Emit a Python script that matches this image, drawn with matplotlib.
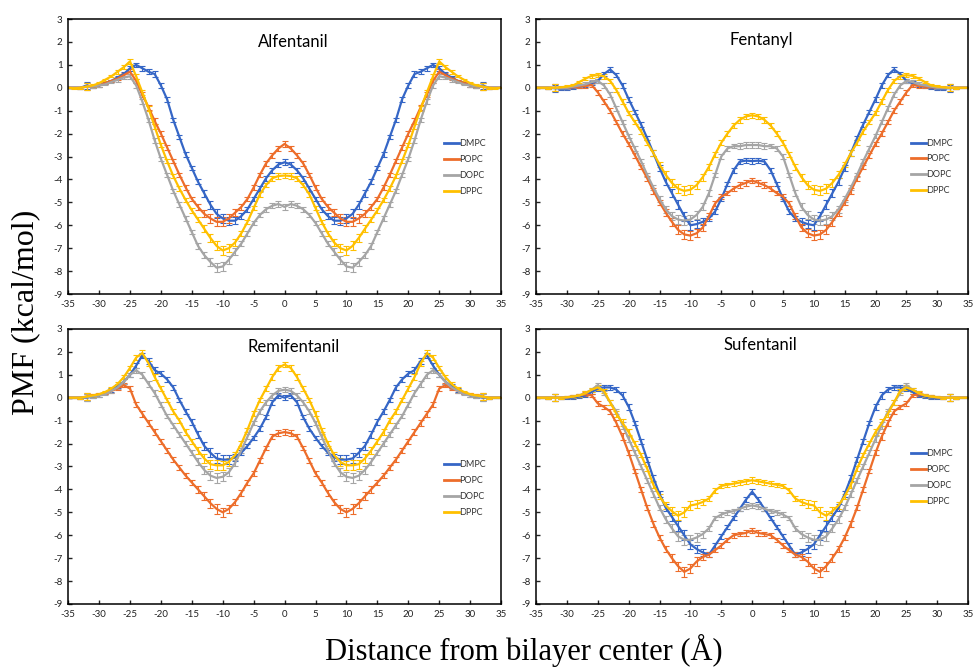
import numpy as np
import matplotlib
matplotlib.use('Agg')
import matplotlib.pyplot as plt
from matplotlib.lines import Line2D

plt.rcParams['axes.unicode_minus'] = False

# distance grid (A); profiles are symmetric, values read for -35..0
x_half = np.arange(-35, 1)
x = np.arange(-35, 36)

lipids = ['DMPC', 'POPC', 'DOPC', 'DPPC']
colors = {'DMPC': '#3566c6', 'POPC': '#ed6d2a', 'DOPC': '#a5a5a5', 'DPPC': '#ffc000'}

drugs = ['Alfentanil', 'Fentanyl', 'Remifentanil', 'Sufentanil']

# PMF (kcal/mol), x = -35 ... 0
alf_dmpc = [0, 0, 0, 0.1, 0.05, 0.1, 0.2, 0.3, 0.45, 0.6,
            0.85, 1.0, 0.85, 0.7, 0.6, 0.1, -0.5, -1.4, -2.15, -2.9,
            -3.5, -4.1, -4.6, -5.1, -5.5, -5.7, -5.8, -5.8, -5.6, -5.3,
            -4.85, -4.4, -3.95, -3.6, -3.35, -3.25]
alf_popc = [0, 0, 0, 0.05, 0.05, 0.1, 0.2, 0.3, 0.4, 0.55,
            0.7, 0.3, -0.3, -0.85, -1.45, -2.0, -2.6, -3.2, -3.8, -4.35,
            -4.85, -5.2, -5.5, -5.7, -5.85, -5.85, -5.7, -5.45, -5.2, -4.85,
            -4.35, -3.8, -3.3, -2.95, -2.65, -2.45]
alf_dopc = [0, 0, 0, 0.05, 0.05, 0.1, 0.15, 0.25, 0.35, 0.45,
            0.5, 0.1, -0.6, -1.4, -2.3, -3.1, -3.8, -4.5, -5.1, -5.7,
            -6.3, -6.9, -7.3, -7.6, -7.85, -7.8, -7.5, -7.15, -6.8, -6.35,
            -5.9, -5.55, -5.3, -5.15, -5.07, -5.2]
alf_dppc = [0, -0.02, 0, 0.05, 0.1, 0.2, 0.35, 0.5, 0.7, 0.9,
            1.15, 0.5, -0.2, -0.9, -1.7, -2.5, -3.2, -3.85, -4.4, -4.9,
            -5.35, -5.75, -6.15, -6.55, -6.9, -7.1, -7.0, -6.75, -6.35, -5.85,
            -5.25, -4.65, -4.25, -3.95, -3.85, -3.83]

fen_dmpc = [0, 0, 0, -0.02, -0.03, -0.03, 0, 0.05, 0.1, 0.2,
            0.3, 0.6, 0.8, 0.55, 0.1, -0.5, -1.05, -1.6, -2.2, -2.85,
            -3.5, -4.1, -4.6, -5.1, -5.6, -6.0, -5.95, -5.85, -5.7, -5.4,
            -4.85, -4.2, -3.6, -3.22, -3.18, -3.2]
fen_popc = [0, 0, 0, 0, 0, 0, 0.02, 0.05, 0.08, 0.12,
            -0.2, -0.6, -1.0, -1.5, -2.0, -2.45, -2.95, -3.45, -3.95, -4.5,
            -5.0, -5.45, -5.85, -6.2, -6.4, -6.45, -6.35, -6.1, -5.6, -5.05,
            -4.75, -4.6, -4.4, -4.25, -4.15, -4.05]
fen_dopc = [0, 0, 0, 0, 0, 0, 0.05, 0.1, 0.15, 0.25,
            0.3, 0.1, -0.3, -0.9, -1.5, -2.1, -2.65, -3.2, -3.8, -4.35,
            -4.85, -5.3, -5.6, -5.75, -5.8, -5.75, -5.55, -5.2, -4.6, -3.8,
            -3.0, -2.65, -2.55, -2.55, -2.5, -2.5]
fen_dppc = [0, 0, 0, 0, 0.02, 0.05, 0.1, 0.25, 0.4, 0.52,
            0.55, 0.5, 0.3, -0.1, -0.6, -1.1, -1.5, -1.9, -2.4, -2.85,
            -3.35, -3.8, -4.15, -4.4, -4.5, -4.45, -4.25, -3.9, -3.45, -2.9,
            -2.4, -2.0, -1.65, -1.4, -1.25, -1.2]

rem_dmpc = [0, 0, 0, 0, 0.05, 0.1, 0.2, 0.35, 0.5, 0.7,
            1.0, 1.4, 1.85, 1.6, 1.2, 1.05, 0.8, 0.45, -0.1, -0.6,
            -1.05, -1.6, -2.1, -2.4, -2.65, -2.7, -2.7, -2.6, -2.4, -2.1,
            -1.75, -1.35, -0.85, -0.2, 0.1, 0.0]
rem_popc = [0, 0, 0, 0.05, 0.1, 0.15, 0.2, 0.3, 0.4, 0.55,
            0.4, -0.3, -0.7, -1.1, -1.5, -1.9, -2.3, -2.7, -3.05, -3.4,
            -3.7, -4.0, -4.3, -4.6, -4.85, -5.0, -4.85, -4.55, -4.15, -3.7,
            -3.3, -2.75, -2.2, -1.7, -1.55, -1.5]
rem_dopc = [0, 0, 0, 0.02, 0.05, 0.1, 0.15, 0.3, 0.45, 0.7,
            1.0, 1.2, 1.0, 0.6, 0.2, -0.3, -0.8, -1.2, -1.6, -2.0,
            -2.4, -2.8, -3.15, -3.4, -3.5, -3.45, -3.25, -2.85, -2.3, -1.7,
            -1.1, -0.6, -0.2, 0.1, 0.3, 0.35]
rem_dppc = [0, 0, 0, 0.05, 0.1, 0.15, 0.25, 0.4, 0.6, 0.9,
            1.3, 1.75, 1.95, 1.5, 0.9, 0.4, -0.1, -0.6, -1.0, -1.5,
            -1.9, -2.3, -2.65, -2.9, -2.95, -2.95, -2.8, -2.5, -2.0, -1.4,
            -0.7, -0.1, 0.4, 0.9, 1.3, 1.45]

suf_dmpc = [0, 0, 0, 0, 0, 0, 0, 0.05, 0.1, 0.25,
            0.4, 0.45, 0.45, 0.35, 0.1, -0.4, -1.1, -1.9, -2.7, -3.5,
            -4.2, -4.8, -5.2, -5.6, -6.0, -6.4, -6.6, -6.75, -6.85, -6.45,
            -6.05, -5.65, -5.25, -4.85, -4.45, -4.1]
suf_popc = [0, 0, 0, 0, 0, 0.02, 0.05, 0.1, 0.15, 0.1,
            -0.25, -0.4, -0.6, -1.1, -1.7, -2.4, -3.2, -4.0, -4.8, -5.5,
            -6.1, -6.6, -7.0, -7.35, -7.6, -7.45, -7.15, -6.95, -6.85, -6.65,
            -6.45, -6.2, -6.0, -5.95, -5.9, -5.8]
suf_dopc = [0, 0, 0, 0, 0, 0.02, 0.05, 0.1, 0.2, 0.35,
            0.55, 0.2, -0.2, -0.6, -1.2, -1.8, -2.4, -3.0, -3.6, -4.2,
            -4.8, -5.3, -5.7, -6.05, -6.2, -6.2, -6.1, -5.95, -5.7, -5.25,
            -5.1, -5.0, -4.95, -4.85, -4.75, -4.7]
suf_dppc = [0, 0, 0, 0, 0, 0.02, 0.05, 0.1, 0.2, 0.35,
            0.45, 0.3, -0.2, -0.7, -1.1, -1.5, -2.0, -2.5, -3.1, -3.8,
            -4.3, -4.7, -4.95, -5.15, -5.0, -4.7, -4.65, -4.55, -4.4, -4.05,
            -3.85, -3.8, -3.75, -3.7, -3.65, -3.6]

# error bar half-heights, x = -35 ... 0 (one set per drug)
err_alf = [0.03, 0.03, 0.05, 0.15, 0.05, 0.05, 0.05, 0.05, 0.08, 0.08,
           0.1, 0.1, 0.1, 0.1, 0.12, 0.1, 0.1, 0.1, 0.1, 0.1,
           0.1, 0.12, 0.15, 0.18, 0.2, 0.2, 0.18, 0.15, 0.12, 0.1,
           0.1, 0.1, 0.1, 0.1, 0.12, 0.12]
err_fen = [0.03, 0.03, 0.05, 0.15, 0.05, 0.05, 0.05, 0.05, 0.08, 0.08,
           0.1, 0.1, 0.1, 0.1, 0.1, 0.1, 0.1, 0.1, 0.1, 0.12,
           0.12, 0.15, 0.18, 0.2, 0.2, 0.2, 0.18, 0.15, 0.12, 0.1,
           0.1, 0.1, 0.1, 0.12, 0.12, 0.12]
err_rem = [0.03, 0.03, 0.05, 0.15, 0.05, 0.05, 0.05, 0.08, 0.08, 0.1,
           0.1, 0.1, 0.12, 0.12, 0.12, 0.12, 0.1, 0.1, 0.1, 0.12,
           0.12, 0.15, 0.18, 0.2, 0.22, 0.2, 0.18, 0.15, 0.12, 0.1,
           0.1, 0.1, 0.1, 0.12, 0.12, 0.12]
err_suf = [0.03, 0.03, 0.05, 0.15, 0.05, 0.05, 0.05, 0.05, 0.08, 0.08,
           0.1, 0.1, 0.1, 0.12, 0.15, 0.12, 0.1, 0.1, 0.1, 0.12,
           0.12, 0.15, 0.18, 0.2, 0.22, 0.2, 0.18, 0.15, 0.12, 0.1,
           0.1, 0.1, 0.1, 0.1, 0.12, 0.12]

pmf = {
    'Alfentanil': [alf_dmpc, alf_popc, alf_dopc, alf_dppc],
    'Fentanyl': [fen_dmpc, fen_popc, fen_dopc, fen_dppc],
    'Remifentanil': [rem_dmpc, rem_popc, rem_dopc, rem_dppc],
    'Sufentanil': [suf_dmpc, suf_popc, suf_dopc, suf_dppc],
}
errs = {'Alfentanil': err_alf, 'Fentanyl': err_fen,
        'Remifentanil': err_rem, 'Sufentanil': err_suf}


def mirror(half):
    half = np.asarray(half, dtype=float)
    return np.concatenate([half, half[-2::-1]])


fig = plt.figure(figsize=(9.73, 6.67), dpi=100)

# axes boxes [left, bottom, width, height] in figure fraction
boxes = {
    'Alfentanil': [0.0700, 0.5592, 0.4450, 0.4123],
    'Fentanyl': [0.5510, 0.5592, 0.4440, 0.4123],
    'Remifentanil': [0.0700, 0.0945, 0.4450, 0.4123],
    'Sufentanil': [0.5510, 0.0945, 0.4440, 0.4123],
}
legend_top = {'Alfentanil': 0.575, 'Fentanyl': 0.578,
              'Remifentanil': 0.535, 'Sufentanil': 0.575}
title_y = {'Alfentanil': 0.915, 'Fentanyl': 0.925,
           'Remifentanil': 0.935, 'Sufentanil': 0.94}

for drug in drugs:
    ax = fig.add_axes(boxes[drug])
    for lipid, half in zip(lipids, pmf[drug]):
        ax.errorbar(x, mirror(half), yerr=mirror(errs[drug]),
                    color=colors[lipid], lw=1.6, elinewidth=0.8,
                    capsize=2.0, capthick=0.8)

    ax.set_xlim(-35, 35)
    ax.set_ylim(-9, 3)
    ax.set_xticks(np.arange(-35, 36, 5))
    ax.set_yticks(np.arange(-9, 4, 1))
    ax.tick_params(direction='in', length=3, width=1, labelsize=7,
                   colors='#222222', pad=4)
    for lab in ax.get_xticklabels() + ax.get_yticklabels():
        lab.set_family('Lato')
    for sp in ax.spines.values():
        sp.set_linewidth(1.1)
        sp.set_color('black')

    ax.text(0.52, title_y[drug], drug, transform=ax.transAxes,
            ha='center', va='center', fontsize=12, family='Lato')

    # plain line handles, as in the original legend
    handles = [Line2D([], [], color=colors[l], lw=2) for l in lipids]
    leg = ax.legend(handles, lipids, loc='upper left',
                    bbox_to_anchor=(0.86, legend_top[drug]),
                    frameon=False, fontsize=6.5, handlelength=1.6,
                    handletextpad=0.1, labelspacing=0.75, borderaxespad=0)
    for t in leg.get_texts():
        t.set_family('Lato')
        t.set_color('#333333')

fig.text(0.026, 0.532, 'PMF (kcal/mol)', rotation=90, ha='center',
         va='center', fontsize=23, family='Liberation Serif')
fig.text(0.538, 0.0105, 'Distance from bilayer center (\u00c5)', ha='center',
         va='baseline', fontsize=22, family='Liberation Serif')

fig.savefig('out.png', dpi=100)
